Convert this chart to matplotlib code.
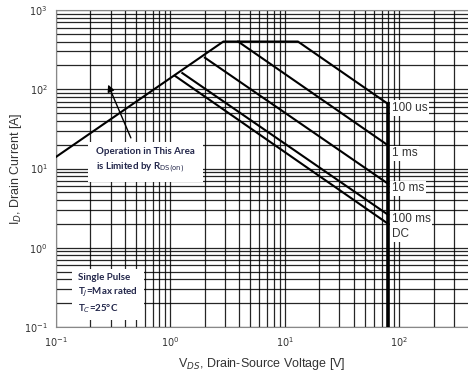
import numpy as np
import matplotlib
matplotlib.use('Agg')
import matplotlib.pyplot as plt

# safe operating area curves
limit_v = [0.1, 2.9, 13, 80]
limit_i = [14, 400, 400, 65]
ms1_v = [3.9, 80]
ms1_i = [400, 19.5]
ms10_v = [2.0, 80]
ms10_i = [250, 6.4]
ms100_v = [1.27, 80]
ms100_i = [160, 2.6]
dc_v = [1.1, 80]
dc_i = [147, 2.0]
vmax_v = [80, 80]
vmax_i = [65, 0.1]

curve_labels = ['100 us', '1 ms', '10 ms', '100 ms', 'DC']
label_i = [58, 15.5, 5.6, 2.33, 1.5]

xticks = [0.1, 1, 10, 100]
xticklabels = ['$10^{-1}$', '$10^{0}$', '$10^{1}$', '$10^{2}$']
yticks = [0.1, 1, 10, 100, 1000]
yticklabels = ['$10^{-1}$', '$10^{0}$', '$10^{1}$', '$10^{2}$', '$10^{3}$']

fig = plt.figure(figsize=(4.68, 3.78), dpi=100)
ax = fig.add_axes([56/468, 1 - 327/378, 1 - 56/468, (327 - 10)/378])
ax.set_xscale('log')
ax.set_yscale('log')
ax.set_xlim(0.1, 10**2.6)
ax.set_ylim(0.1, 1000)

ax.grid(True, which='both', color='black', lw=0.9, alpha=0.85)
ax.set_axisbelow(True)

for v, i in [(limit_v, limit_i), (ms1_v, ms1_i), (ms10_v, ms10_i),
             (ms100_v, ms100_i), (dc_v, dc_i)]:
    ax.plot(v, i, color='black', lw=1.5, zorder=3)
ax.plot(vmax_v, vmax_i, color='black', lw=2.6, zorder=3)

box = dict(boxstyle='square,pad=0.15', fc='white', ec='none')
for lab, yi in zip(curve_labels, label_i):
    ax.text(86, yi, lab, fontsize=8.5, color='#333333', ha='left', va='center',
            family=['Liberation Sans', 'DejaVu Sans'], bbox=box, zorder=4)

navy = '#22264a'
ax.text(0.224, 12.6, 'Operation in This Area\nis Limited by R$_{\\mathrm{DS(on)}}$',
        fontsize=7, fontweight='bold', color=navy, ha='left', va='center',
        family=['Lato', 'DejaVu Sans'], linespacing=1.5,
        bbox=dict(boxstyle='square,pad=0.8', fc='white', ec='none'), zorder=4)
ax.annotate('', xy=(0.279, 123), xytext=(0.461, 22.6),
            arrowprops=dict(arrowstyle='-|>', color='black', lw=1.0,
                            mutation_scale=10), zorder=5)

ax.text(0.156, 0.262, 'Single Pulse\nT$_J$=Max rated\nT$_C$=25°C',
        fontsize=7, fontweight='bold', color=navy, ha='left', va='center',
        family=['Lato', 'DejaVu Sans'], linespacing=1.35,
        bbox=dict(boxstyle='square,pad=0.6', fc='white', ec='none'), zorder=4)

ax.set_xticks(xticks)
ax.set_xticklabels(xticklabels)
ax.set_yticks(yticks)
ax.set_yticklabels(yticklabels)
ax.tick_params(which='both', length=0, labelsize=7, colors='#333333', pad=6)

for s in ['left', 'bottom', 'top']:
    ax.spines[s].set_color('#888888')
ax.spines['right'].set_visible(False)

ax.set_xlabel('V$_{DS}$, Drain-Source Voltage [V]', fontsize=9, color='#333333',
              family=['Liberation Sans', 'DejaVu Sans'], labelpad=5)
ax.set_ylabel('I$_D$, Drain Current [A]', fontsize=9, color='#333333',
              family=['Liberation Sans', 'DejaVu Sans'], labelpad=0)

fig.savefig('out.png', dpi=100)
